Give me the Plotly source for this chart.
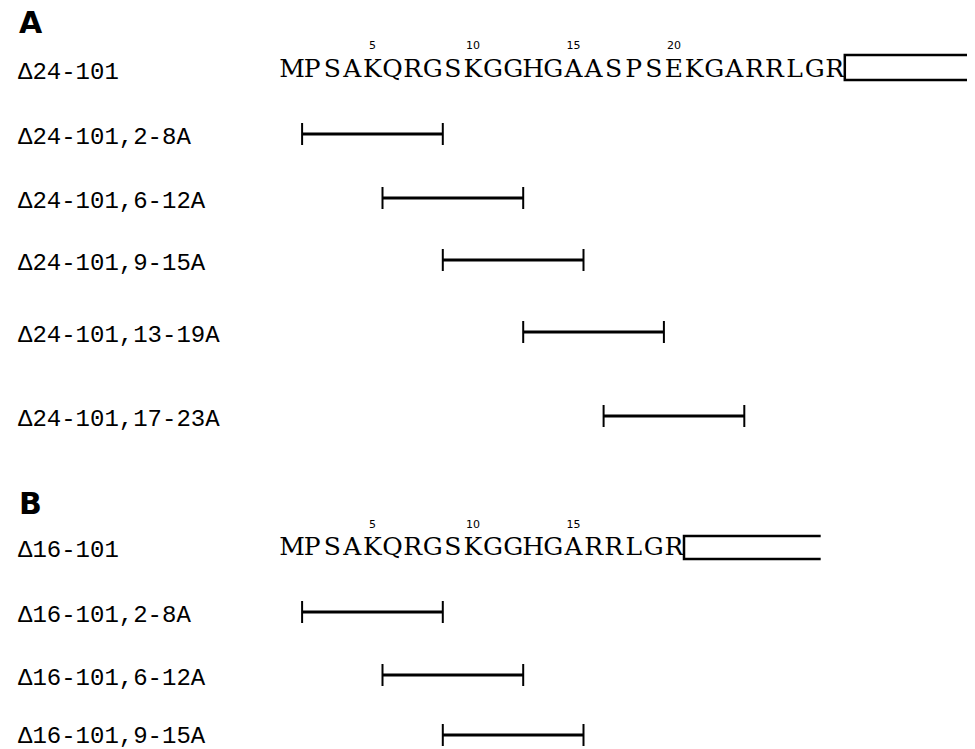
import plotly.graph_objects as go

# ---------------- data ----------------
seq_a = "MPSAKQRGSKGGHGAASPSEKGARRLGR"
seq_b = "MPSAKQRGSKGGHGARRLGR"
ticks_a = [5, 10, 15, 20]
ticks_b = [5, 10, 15]

construct_a = "Δ24-101"
construct_b = "Δ16-101"

labels_a = ["Δ24-101,2-8A", "Δ24-101,6-12A", "Δ24-101,9-15A",
            "Δ24-101,13-19A", "Δ24-101,17-23A"]
start_a = [2, 6, 9, 13, 17]
end_a = [8, 12, 15, 19, 23]

labels_b = ["Δ16-101,2-8A", "Δ16-101,6-12A", "Δ16-101,9-15A"]
start_b = [2, 6, 9]
end_b = [8, 12, 15]

# ---------------- layout (window pixels; page body has an 8px margin) ----------------
WIN_W, WIN_H = 975, 749
OFF = 8
W, H = WIN_W - OFF, WIN_H - OFF
PX0 = 282.0      # window pixel of left edge of residue 1
PXR = 20.1       # pixels per residue
xmin = 0.5 - (PX0 - OFF) / PXR
xmax = 0.5 + (WIN_W - PX0) / PXR

y_seq_a, y_num_a = 71, 46
rows_a = [134, 198, 260, 332, 416]
y_seq_b, y_num_b = 549, 525
rows_b = [612, 675, 735]
y_head_a, y_head_b = 22, 503

LABEL_X = 16

LABEL_FONT = dict(family="Liberation Mono", size=24, color="black")
SEQ_FONT = dict(family="DejaVu Serif", size=25, color="black")
NUM_FONT = dict(family="DejaVu Sans", size=11, color="black")
HEAD_FONT = dict(family="DejaVu Sans", size=30, color="black")

fig = go.Figure()

def add_sequence(seq, y):
    fig.add_trace(go.Scatter(
        x=list(range(1, len(seq) + 1)), y=[y] * len(seq),
        text=list(seq), mode="text", textposition="middle center",
        textfont=SEQ_FONT, showlegend=False, hoverinfo="skip"))

def add_numbers(ticks, y):
    fig.add_trace(go.Scatter(
        x=ticks, y=[y] * len(ticks), text=[str(t) for t in ticks],
        mode="text", textposition="middle center", textfont=NUM_FONT,
        showlegend=False, hoverinfo="skip"))

def add_bars(starts, ends, ys):
    hx, hy, tx, ty = [], [], [], []
    for s, e, y in zip(starts, ends, ys):
        x0, x1 = s - 0.5, e + 0.5
        hx += [x0, x1, None]
        hy += [y, y, None]
        for xx in (x0, x1):
            tx += [xx, xx, None]
            ty += [y - 11, y + 11, None]
    fig.add_trace(go.Scatter(x=hx, y=hy, mode="lines",
                             line=dict(color="black", width=3),
                             showlegend=False, hoverinfo="skip"))
    fig.add_trace(go.Scatter(x=tx, y=ty, mode="lines",
                             line=dict(color="black", width=2),
                             showlegend=False, hoverinfo="skip"))

def add_box(x0, x1, ytop, ybot):
    xs = [x1, x0, x0, x1]
    ys = [ytop, ytop, ybot, ybot]
    fig.add_trace(go.Scatter(x=xs, y=ys, mode="lines",
                             line=dict(color="black", width=2.5),
                             showlegend=False, hoverinfo="skip"))

# panel A
add_numbers(ticks_a, y_num_a)
add_sequence(seq_a, y_seq_a)
add_box(len(seq_a) + 0.5, xmax + 5, 55, 80)
add_bars(start_a, end_a, rows_a)

# panel B
add_numbers(ticks_b, y_num_b)
add_sequence(seq_b, y_seq_b)
add_box(len(seq_b) + 0.5, 27.3, 536, 559)
add_bars(start_b, end_b, rows_b)

ann = []
for txt, y in (("<b>A</b>", y_head_a), ("<b>B</b>", y_head_b)):
    ann.append(dict(text=txt, x=(18 - OFF) / W, y=y, xref="paper", yref="y",
                    xanchor="left", yanchor="middle", showarrow=False,
                    borderpad=0, font=HEAD_FONT))
pairs = [(construct_a, y_seq_a + 1)] + list(zip(labels_a, [r + 3 for r in rows_a])) \
    + [(construct_b, y_seq_b + 1)] + list(zip(labels_b, [r + 3 for r in rows_b[:-1]] + [rows_b[-1] + 1]))
for lab, y in pairs:
    ann.append(dict(text=lab, x=(LABEL_X - OFF) / W, y=y, xref="paper", yref="y",
                    xanchor="left", yanchor="middle", showarrow=False,
                    font=LABEL_FONT))

fig.update_layout(
    width=W, height=H,
    margin=dict(l=0, r=0, t=0, b=0),
    paper_bgcolor="white", plot_bgcolor="white",
    xaxis=dict(range=[xmin, xmax], visible=False, fixedrange=True),
    yaxis=dict(range=[WIN_H, OFF], visible=False, fixedrange=True),
    annotations=ann,
    showlegend=False,
)

fig.write_html("out.html")
